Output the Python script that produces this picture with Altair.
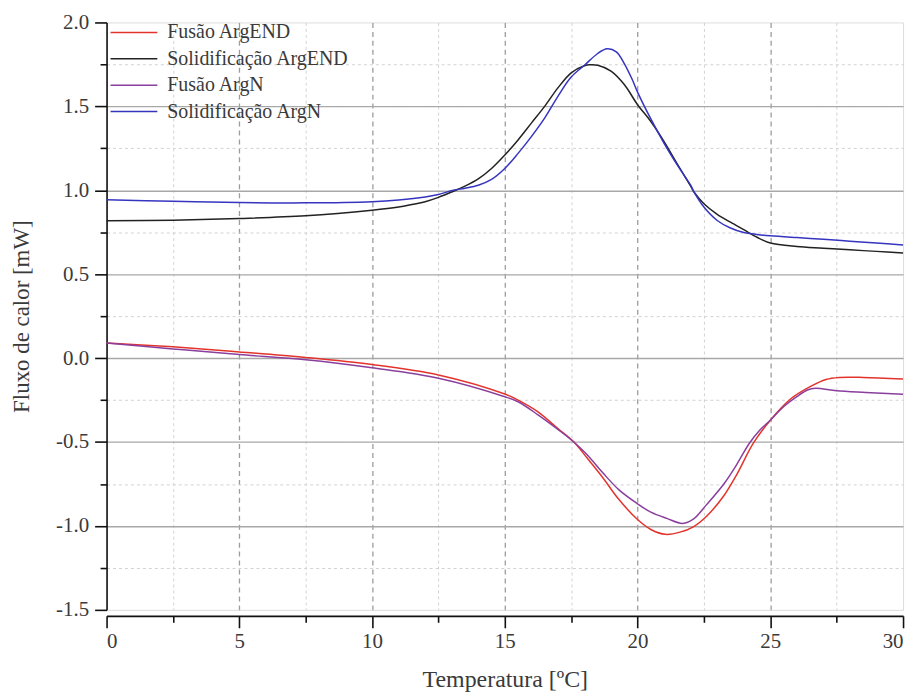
import altair as alt
import pandas as pd

# ---- data ----
series_names = ["Fusão ArgEND", "Solidificação ArgEND", "Fusão ArgN", "Solidificação ArgN"]
series_colors = ["#e3342c", "#222222", "#8a3f9e", "#3535c0"]

fus_end_x = [0, 2.5, 5, 7.5, 10, 12.5, 15, 15.5, 16.25, 17, 17.6, 18.1, 18.7, 19.3, 20, 20.5,
             21.05, 21.6, 22.1, 22.6, 23.25, 23.75, 24.35, 25, 25.75, 26.5, 27.1, 27.6, 28.5, 30]
fus_end_y = [0.09, 0.067, 0.037, 0.004, -0.038, -0.10, -0.214, -0.25, -0.32, -0.42, -0.50, -0.595,
             -0.714, -0.843, -0.962, -1.021, -1.05, -1.037, -1.005, -0.942, -0.82, -0.69, -0.51,
             -0.37, -0.245, -0.17, -0.127, -0.115, -0.115, -0.125]

sol_end_x = [0, 2.5, 5, 7.5, 10, 11, 11.5, 12, 12.5, 13, 13.5, 14, 14.5, 15, 15.5, 16, 16.5, 17,
             17.5, 18, 18.2, 18.5, 19, 19.5, 20, 20.5, 21, 21.5, 22, 22.14, 22.5, 23, 23.5, 24,
             24.5, 25, 26, 27, 28, 29, 30]
sol_end_y = [0.818, 0.822, 0.832, 0.848, 0.881, 0.90, 0.915, 0.932, 0.958, 0.99, 1.025, 1.068,
             1.13, 1.21, 1.30, 1.40, 1.50, 1.61, 1.70, 1.742, 1.748, 1.745, 1.71, 1.63, 1.51, 1.41,
             1.29, 1.156, 1.025, 0.987, 0.92, 0.857, 0.81, 0.765, 0.72, 0.686, 0.665, 0.655, 0.645,
             0.636, 0.626]

fus_n_x = [0, 2.5, 5, 7.5, 10, 12.5, 15, 15.5, 16.25, 17, 17.6, 18.1, 18.7, 19.3, 20, 20.5, 21.1,
           21.7, 22.1, 22.6, 23.25, 23.75, 24.2, 24.6, 25, 25.5, 26, 26.4, 26.7, 27.5, 28.6, 30]
fus_n_y = [0.09, 0.055, 0.021, -0.01, -0.058, -0.12, -0.23, -0.26, -0.338, -0.425, -0.50, -0.576,
           -0.685, -0.785, -0.868, -0.918, -0.955, -0.985, -0.96, -0.873, -0.75, -0.63, -0.51,
           -0.43, -0.37, -0.29, -0.23, -0.19, -0.18, -0.195, -0.205, -0.216]

sol_n_x = [0, 2.5, 5, 7.5, 10, 11, 12, 12.5, 13.06, 13.5, 14, 14.5, 15, 15.5, 16, 16.5, 17, 17.5,
           18, 18.5, 18.85, 19.2, 19.5, 19.8, 20, 20.5, 21, 21.5, 22, 22.14, 22.5, 23, 23.5, 24,
           24.5, 25, 26, 27, 28, 29, 30]
sol_n_y = [0.943, 0.935, 0.927, 0.925, 0.932, 0.942, 0.96, 0.975, 1.0, 1.012, 1.03, 1.065, 1.13,
           1.22, 1.32, 1.43, 1.56, 1.675, 1.745, 1.815, 1.843, 1.825, 1.755, 1.66, 1.585, 1.425,
           1.28, 1.15, 1.03, 0.986, 0.90, 0.82, 0.775, 0.748, 0.737, 0.729, 0.718, 0.708, 0.697,
           0.686, 0.674]

x_ticks = [0, 2.5, 5, 7.5, 10, 12.5, 15, 17.5, 20, 22.5, 25, 27.5, 30]
y_ticks = [-1.5, -1.25, -1.0, -0.75, -0.5, -0.25, 0.0, 0.25, 0.5, 0.75, 1.0, 1.25, 1.5, 1.75, 2.0]

frames = []
for name, xs, ys in [
    (series_names[0], fus_end_x, fus_end_y),
    (series_names[1], sol_end_x, sol_end_y),
    (series_names[2], fus_n_x, fus_n_y),
    (series_names[3], sol_n_x, sol_n_y),
]:
    frames.append(pd.DataFrame({"T": xs, "Q": ys, "serie": name}))
df = pd.concat(frames, ignore_index=True)

FONT = "Liberation Serif"
TXT = "#3a3a3a"

x_major = "abs(datum.value/5 - round(datum.value/5)) < 0.001"
y_major = "abs(datum.value*2 - round(datum.value*2)) < 0.001"

x_axis = alt.Axis(
    values=x_ticks,
    title="Temperatura [ºC]",
    labelExpr="(" + x_major + ") ? format(datum.value, 'd') : ''",
    offset=6,
    domainColor="#111111", domainWidth=1.6,
    tickColor="#111111", tickWidth=1.6,
    tickSize={"condition": {"test": x_major, "value": 12}, "value": 6.5},
    labelFont=FONT, labelFontSize=21, labelColor=TXT, labelPadding=3,
    titleFont=FONT, titleFontSize=24, titleColor=TXT, titleFontWeight="normal", titlePadding=16,
    grid=True,
    gridColor={"condition": {"test": x_major, "value": "#9c9c9c"}, "value": "#d2d2d2"},
    gridDash={"condition": {"test": x_major, "value": [5, 4]}, "value": [3, 3]},
    gridWidth={"condition": {"test": x_major, "value": 1.3}, "value": 1},
    gridOpacity={"condition": {"test": "datum.value <= 0.01 || datum.value >= 29.99", "value": 0}, "value": 1},
)

y_axis = alt.Axis(
    values=y_ticks,
    title="Fluxo de calor [mW]",
    labelExpr="(" + y_major + ") ? ((datum.value < 0 ? '-' : '') + format(abs(datum.value), '.1f')) : ''",
    domainColor="#111111", domainWidth=1.6,
    tickColor="#111111", tickWidth=1.6,
    tickSize={"condition": {"test": y_major, "value": 12}, "value": 6.5},
    labelFont=FONT, labelFontSize=21, labelColor=TXT, labelPadding=6,
    titleFont=FONT, titleFontSize=23, titleColor=TXT, titleFontWeight="normal", titlePadding=22,
    grid=True,
    gridColor={"condition": {"test": y_major, "value": "#a8a8a8"}, "value": "#d2d2d2"},
    gridDash={"condition": {"test": y_major, "value": [1, 0]}, "value": [3, 3]},
    gridWidth={"condition": {"test": y_major, "value": 1.4}, "value": 1},
    gridOpacity={"condition": {"test": "datum.value <= -1.49 || datum.value >= 1.99", "value": 0}, "value": 1},
)

legend = alt.Legend(
    title=None,
    orient="none",
    legendX=3,
    legendY=0,
    padding=0,
    symbolType="stroke",
    symbolSize=2209,
    symbolStrokeWidth=1.5,
    clipHeight=20,
    rowPadding=6.5,
    labelOffset=9,
    labelFont=FONT,
    labelFontSize=20,
    labelColor=TXT,
    labelLimit=400,
)

chart = (
    alt.Chart(df)
    .mark_line(strokeWidth=1.5, interpolate="catmull-rom")
    .encode(
        x=alt.X("T:Q", scale=alt.Scale(domain=[0, 30], nice=False, zero=False), axis=x_axis),
        y=alt.Y("Q:Q", scale=alt.Scale(domain=[-1.5, 2.0], nice=False, zero=False), axis=y_axis),
        color=alt.Color("serie:N", scale=alt.Scale(domain=series_names, range=series_colors),
                        legend=legend, sort=series_names),
        detail="serie:N",
    )
    .properties(
        width=800,
        height=590,
        autosize=alt.AutoSizeParams(type="none"),
        padding={"left": 99, "top": 13, "right": 10, "bottom": 84},
    )
    .configure_view(stroke=None)
    .configure(background="white")
)

chart.save("out.html", embed_options={"renderer": "svg", "actions": False})
